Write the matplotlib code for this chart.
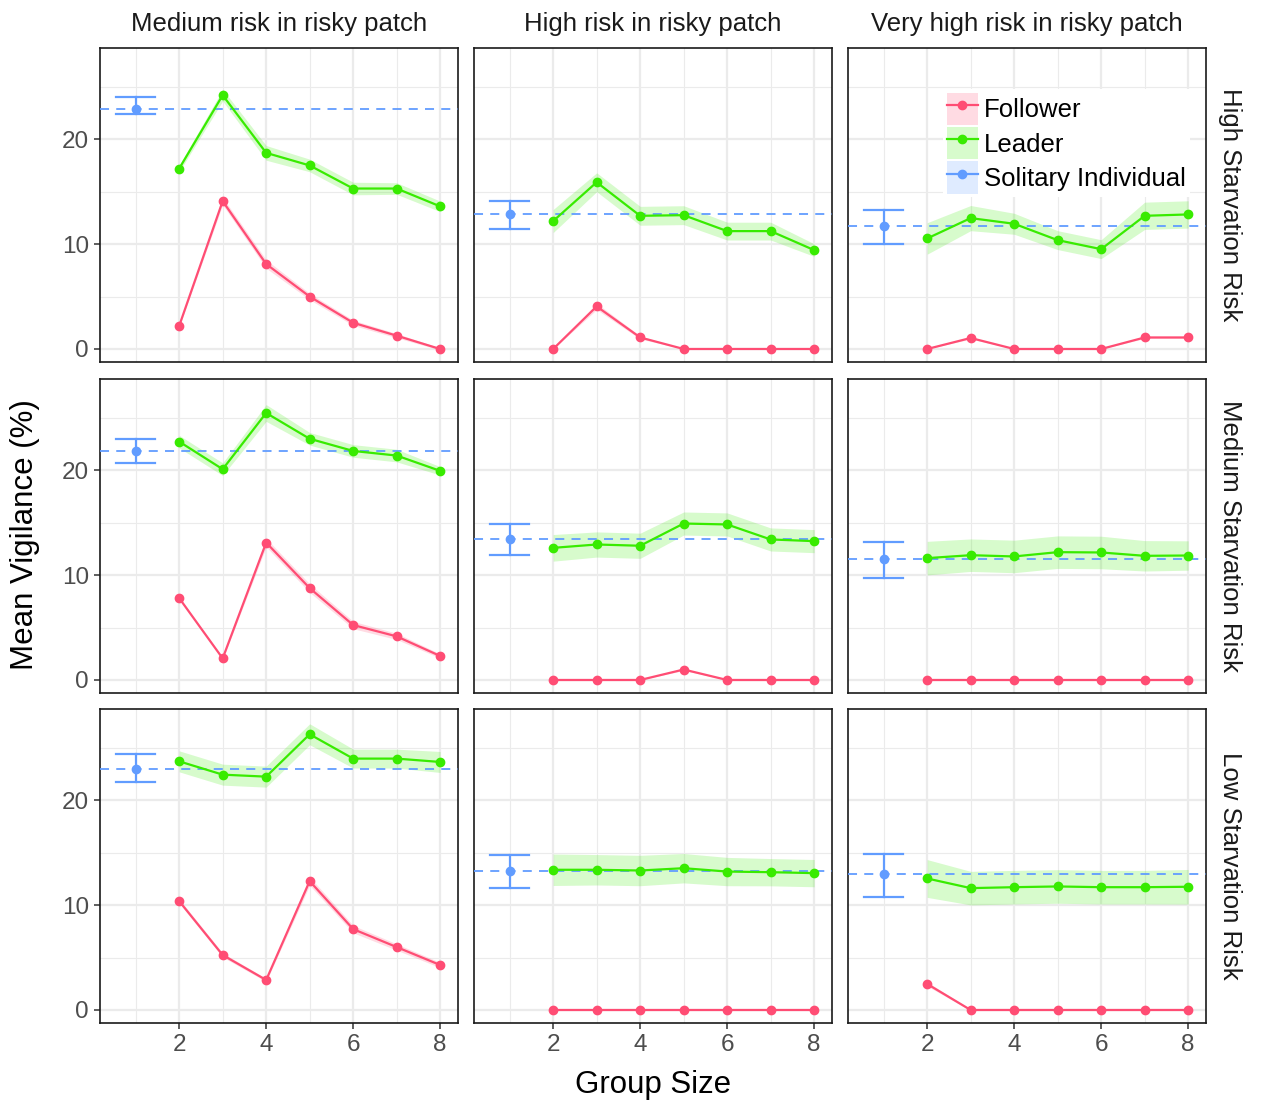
import numpy as np
import matplotlib
matplotlib.use('Agg')
import matplotlib.pyplot as plt
from matplotlib.patches import Patch
from matplotlib.lines import Line2D
from matplotlib.legend_handler import HandlerTuple

plt.rcParams['font.family'] = ['Liberation Sans', 'DejaVu Sans']

group_sizes = [2, 3, 4, 5, 6, 7, 8]
row_labels = ['High Starvation Risk', 'Medium Starvation Risk', 'Low Starvation Risk']
col_labels = ['Medium risk in risky patch', 'High risk in risky patch', 'Very high risk in risky patch']

# panels in row order (starvation risk), then column order (risk in patch)
leader_mean = [
    [17.2, 24.2, 18.7, 17.5, 15.3, 15.3, 13.6],
    [12.2, 15.9, 12.7, 12.76, 11.24, 11.24, 9.43],
    [10.54, 12.48, 11.94, 10.38, 9.52, 12.7, 12.83],
    [22.73, 20.1, 25.46, 23.0, 21.84, 21.4, 19.94],
    [12.6, 12.92, 12.8, 14.92, 14.83, 13.4, 13.24],
    [11.62, 11.9, 11.78, 12.19, 12.16, 11.84, 11.87],
    [23.71, 22.44, 22.25, 26.29, 23.97, 23.97, 23.65],
    [13.37, 13.37, 13.3, 13.52, 13.2, 13.14, 13.05],
    [12.54, 11.62, 11.71, 11.78, 11.71, 11.71, 11.75],
]
leader_se = [
    [0.3, 0.55, 0.7, 0.6, 0.6, 0.55, 0.5],
    [1.1, 0.9, 0.9, 0.9, 0.85, 0.85, 0.6],
    [1.5, 1.2, 1.0, 0.9, 0.9, 1.3, 1.3],
    [0.6, 0.6, 0.8, 0.6, 0.6, 0.6, 0.4],
    [1.27, 1.2, 1.2, 1.1, 1.1, 1.1, 1.1],
    [1.6, 1.55, 1.55, 1.55, 1.55, 1.45, 1.4],
    [1.0, 1.0, 1.0, 1.0, 0.9, 0.9, 1.0],
    [1.5, 1.45, 1.45, 1.4, 1.35, 1.3, 1.3],
    [1.8, 1.6, 1.6, 1.6, 1.6, 1.6, 1.65],
]
follower_mean = [
    [2.2, 14.1, 8.1, 5.0, 2.5, 1.27, 0.0],
    [0.0, 4.06, 1.1, 0.0, 0.0, 0.0, 0.0],
    [0.0, 1.05, 0.0, 0.0, 0.0, 1.1, 1.1],
    [7.81, 2.06, 13.1, 8.76, 5.24, 4.16, 2.29],
    [0.0, 0.0, 0.0, 1.0, 0.0, 0.0, 0.0],
    [0.0, 0.0, 0.0, 0.0, 0.0, 0.0, 0.0],
    [10.38, 5.24, 2.86, 12.29, 7.71, 6.0, 4.29],
    [0.0, 0.0, 0.0, 0.0, 0.0, 0.0, 0.0],
    [2.48, 0.0, 0.0, 0.0, 0.0, 0.0, 0.0],
]
follower_se = [
    [0.1, 0.35, 0.4, 0.3, 0.25, 0.2, 0.1],
    [0.0, 0.3, 0.15, 0.0, 0.0, 0.0, 0.0],
    [0.0, 0.1, 0.0, 0.0, 0.0, 0.1, 0.1],
    [0.1, 0.1, 0.4, 0.4, 0.35, 0.3, 0.2],
    [0.0, 0.0, 0.0, 0.1, 0.0, 0.0, 0.0],
    [0.0, 0.0, 0.0, 0.0, 0.0, 0.0, 0.0],
    [0.2, 0.2, 0.15, 0.4, 0.35, 0.3, 0.25],
    [0.0, 0.0, 0.0, 0.0, 0.0, 0.0, 0.0],
    [0.2, 0.05, 0.0, 0.0, 0.0, 0.0, 0.0],
]
solitary_mean = [22.9, 12.86, 11.68, 21.84, 13.4, 11.52, 22.95, 13.3, 12.98]
solitary_lo = [22.4, 11.46, 10.0, 20.7, 11.9, 9.68, 21.78, 11.65, 10.73]
solitary_hi = [24.0, 14.1, 13.27, 23.0, 14.83, 13.17, 24.44, 14.76, 14.92]

follower_col = '#FF4D74'
leader_col = '#38EB00'
solitary_col = '#619CFF'

fig = plt.figure(figsize=(12.61, 11.04), dpi=100)
W, H = 1261, 1104
col_x = [100, 474, 848]
row_y = [48, 379, 709]
pw, ph = 358, 314

axes = []
for r in range(3):
    for c in range(3):
        k = r * 3 + c
        ax = fig.add_axes([col_x[c] / W, 1 - (row_y[r] + ph) / H, pw / W, ph / H])
        axes.append(ax)
        x = np.array(group_sizes)
        lm = np.array(leader_mean[k]); ls = np.array(leader_se[k])
        fm = np.array(follower_mean[k]); fs = np.array(follower_se[k])

        ax.fill_between(x, fm - fs, fm + fs, color=follower_col, alpha=0.2, lw=0, zorder=2)
        ax.fill_between(x, lm - ls, lm + ls, color=leader_col, alpha=0.2, lw=0, zorder=2)
        ax.plot(x, fm, color=follower_col, lw=1.6, marker='o', ms=6, zorder=4)
        ax.plot(x, lm, color=leader_col, lw=1.6, marker='o', ms=6, zorder=4)

        ax.axhline(solitary_mean[k], color=solitary_col, lw=1.3, ls=(0, (5, 4)), zorder=3)
        ax.plot([1, 1], [solitary_lo[k], solitary_hi[k]], color=solitary_col, lw=1.6, zorder=4)
        for yv in (solitary_lo[k], solitary_hi[k]):
            ax.plot([0.55, 1.45], [yv, yv], color=solitary_col, lw=1.6, zorder=4)
        ax.plot([1], [solitary_mean[k]], 'o', color=solitary_col, ms=6, zorder=5)

        ax.set_xlim(0.18, 8.41)
        ax.set_ylim(-1.24, 28.7)
        ax.set_xticks([2, 4, 6, 8])
        ax.set_xticks([1, 3, 5, 7], minor=True)
        ax.set_yticks([0, 10, 20])
        ax.set_yticks([5, 15, 25], minor=True)
        ax.grid(True, which='major', color='#EBEBEB', lw=1.6, zorder=0)
        ax.grid(True, which='minor', color='#EBEBEB', lw=0.8, zorder=0)
        ax.set_axisbelow(True)
        for s in ax.spines.values():
            s.set_color('#1A1A1A')
            s.set_linewidth(1.2)
        ax.tick_params(which='minor', length=0)
        ax.tick_params(which='major', length=4, width=1.1, color='#333333',
                       labelsize=17.5, labelcolor='#4D4D4D', pad=4)
        if c != 0:
            ax.tick_params(axis='y', which='major', length=0, labelleft=False)
        if r != 2:
            ax.tick_params(axis='x', which='major', length=0, labelbottom=False)

for c in range(3):
    fig.text((col_x[c] + pw / 2) / W, 1 - 24 / H, col_labels[c],
             ha='center', va='center', fontsize=18.5, color='#1A1A1A')
for r in range(3):
    fig.text(1230 / W, 1 - (row_y[r] + ph / 2) / H, row_labels[r],
             ha='center', va='center', rotation=270, fontsize=18.5, color='#1A1A1A')

fig.text(25 / W, 1 - 535 / H, 'Mean Vigilance (%)', ha='center', va='center',
         rotation=90, fontsize=22.5)
fig.text(653 / W, 1 - 1085 / H, 'Group Size', ha='center', va='center', fontsize=22.5)

handles = []
for col in (follower_col, leader_col, solitary_col):
    patch = Patch(facecolor=col, alpha=0.2, edgecolor='none')
    line = Line2D([], [], color=col, lw=1.6, marker='o', ms=6)
    handles.append((patch, line))
leg = axes[2].legend(handles, ['Follower', 'Leader', 'Solitary Individual'],
                     handler_map={tuple: HandlerTuple(ndivide=1, pad=0)},
                     loc='upper left', bbox_to_anchor=(95 / pw, 1 - 41 / ph),
                     frameon=True, fancybox=False, edgecolor='none', framealpha=1,
                     fontsize=18.5, handlelength=1.2, handleheight=1.55,
                     handletextpad=0.25, labelspacing=0.08, borderpad=0.15,
                     borderaxespad=0)

fig.savefig('out.png', dpi=100)
